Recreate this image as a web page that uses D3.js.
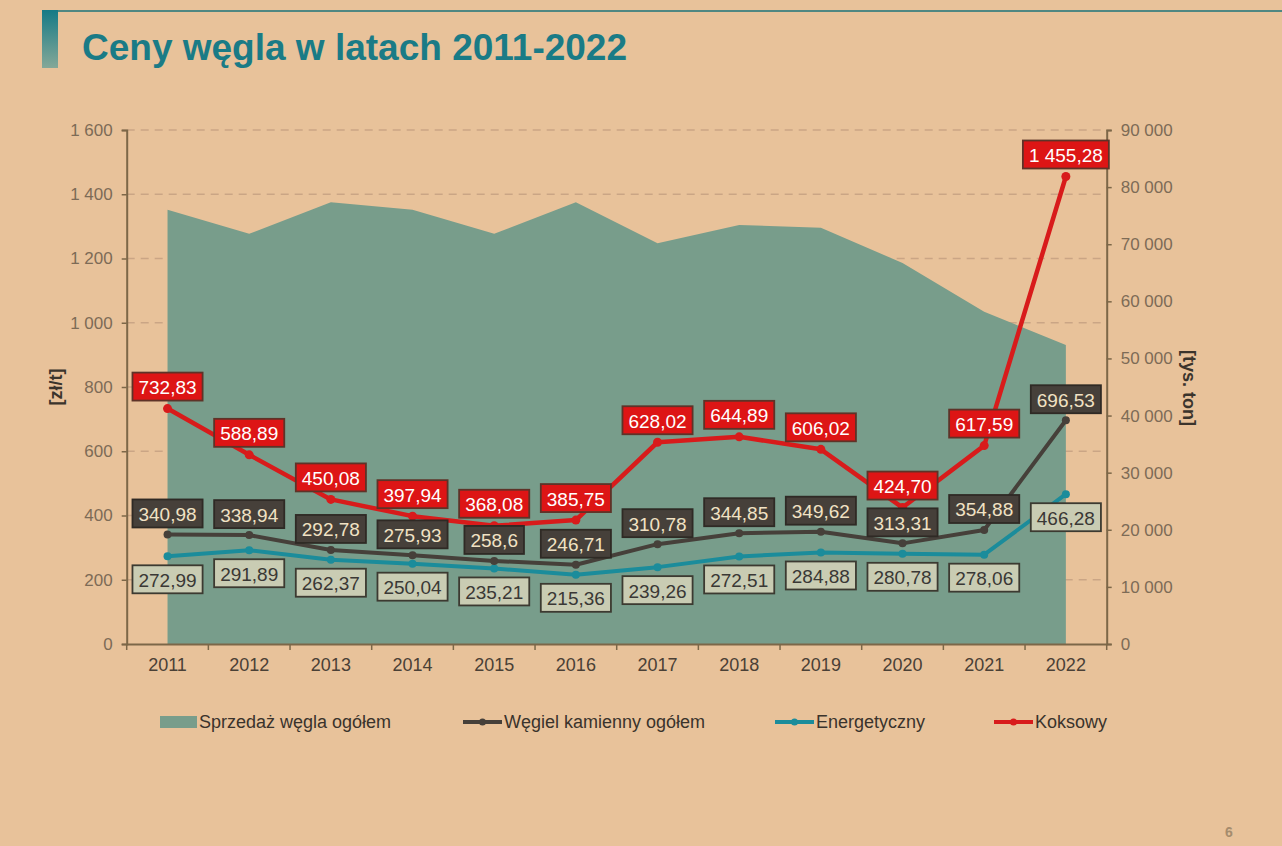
<!DOCTYPE html>
<html lang="pl">
<head>
<meta charset="utf-8">
<script src="https://cdn.jsdelivr.net/npm/d3@7"></script>
<style>
  html, body { margin: 0; padding: 0; background: #e8c29a; }
  svg { display: block; font-family: "Liberation Sans", Arial, sans-serif; }
</style>
</head>
<body>
<svg id="chart" width="1282" height="846"></svg>
<script>
// ---- DATA ----
const years = ["2011","2012","2013","2014","2015","2016","2017","2018","2019","2020","2021","2022"];
const salesTotal = [76030, 71820, 77360, 76030, 71820, 77360, 70180, 73370, 72890, 66710, 58190, 52350]; // tys. ton
const hardCoal   = [340.98, 338.94, 292.78, 275.93, 258.6, 246.71, 310.78, 344.85, 349.62, 313.31, 354.88, 696.53];
const energy     = [272.99, 291.89, 262.37, 250.04, 235.21, 215.36, 239.26, 272.51, 284.88, 280.78, 278.06, 466.28];
const coking     = [732.83, 588.89, 450.08, 397.94, 368.08, 385.75, 628.02, 644.89, 606.02, 424.70, 617.59, 1455.28];
const hardCoalLabels = ["340,98","338,94","292,78","275,93","258,6","246,71","310,78","344,85","349,62","313,31","354,88","696,53"];
const energyLabels   = ["272,99","291,89","262,37","250,04","235,21","215,36","239,26","272,51","284,88","280,78","278,06","466,28"];
const cokingLabels   = ["732,83","588,89","450,08","397,94","368,08","385,75","628,02","644,89","606,02","424,70","617,59","1 455,28"];
const leftTicks  = [0, 200, 400, 600, 800, 1000, 1200, 1400, 1600];
const rightTicks = [0, 10000, 20000, 30000, 40000, 50000, 60000, 70000, 80000, 90000];
const legendNames = ["Sprzedaż węgla ogółem", "Węgiel kamienny ogółem", "Energetyczny", "Koksowy"];
const titleText = "Ceny węgla w latach 2011-2022";

// ---- LAYOUT ----
const svg = d3.select("#chart");
const L = 126.7, R = 1106.7, T = 130, B = 644;
const C = {
  bg: "#e8c29a", area: "#789d8b", grid: "#caa585", axis: "#7c6748", tick: "#7d6b56",
  red: "#d81b1b", dark: "#46403a", teal: "#1b8c9b", title: "#1a7b86"
};
const pl = d3.formatLocale({decimal: ",", thousands: " ", grouping: [3], currency: ["", ""]});
const fmt = pl.format(",d");

const x = d3.scaleBand().domain(years).range([L, R]).paddingInner(0).paddingOuter(0);
const cx = d => x(d) + x.bandwidth() / 2;
const yL = d3.scaleLinear().domain([0, 1600]).range([B, T]);
const yR = d3.scaleLinear().domain([0, 90000]).range([B, T]);

// Title decoration
const defs = svg.append("defs");
const grad = defs.append("linearGradient").attr("id", "barGrad").attr("x1", 0).attr("y1", 0).attr("x2", 0).attr("y2", 1);
grad.append("stop").attr("offset", "0%").attr("stop-color", "#157a86");
grad.append("stop").attr("offset", "100%").attr("stop-color", "#85a898");
svg.append("rect").attr("x", 42).attr("y", 10).attr("width", 1240).attr("height", 2).attr("fill", "#4f8782");
svg.append("rect").attr("x", 42).attr("y", 10).attr("width", 16).attr("height", 58).attr("fill", "url(#barGrad)");
svg.append("text").attr("x", 82).attr("y", 60).attr("fill", C.title)
  .attr("font-size", 37).attr("font-weight", "bold").text(titleText);

// Gridlines (behind area)
svg.append("g").selectAll("line").data(leftTicks.filter(v => v > 0)).join("line")
  .attr("x1", L).attr("x2", R).attr("y1", d => yL(d)).attr("y2", d => yL(d))
  .attr("stroke", C.grid).attr("stroke-width", 1.5).attr("stroke-dasharray", "8,6");

// Area
const area = d3.area().x((d, i) => cx(years[i])).y0(yR(0)).y1(d => yR(d));
svg.append("path").datum(salesTotal).attr("d", area).attr("fill", C.area);

// Axes
const axisL = svg.append("g").attr("transform", `translate(${L},0)`)
  .call(d3.axisLeft(yL).tickValues(leftTicks).tickSize(5).tickPadding(9).tickFormat(fmt));
const axisR = svg.append("g").attr("transform", `translate(${R},0)`)
  .call(d3.axisRight(yR).tickValues(rightTicks).tickSize(5).tickPadding(9).tickFormat(fmt));
[axisL, axisR].forEach(g => {
  g.select(".domain").attr("stroke", C.axis).attr("stroke-width", 2);
  g.selectAll(".tick line").attr("stroke", C.axis).attr("stroke-width", 1.5);
  g.selectAll(".tick text").attr("fill", C.tick).attr("font-size", 17).attr("font-family", "Liberation Sans, Arial, sans-serif");
});
const axisB = svg.append("g").attr("transform", `translate(0,${B})`)
  .call(d3.axisBottom(x).tickSize(0).tickPadding(14));
axisB.select(".domain").attr("stroke", C.axis).attr("stroke-width", 2);
axisB.selectAll(".tick text").attr("fill", "#4a4036").attr("font-size", 18).attr("font-family", "Liberation Sans, Arial, sans-serif");
// category boundary ticks
svg.append("g").selectAll("line").data(years.concat(["end"])).join("line")
  .attr("x1", (d, i) => i < years.length ? x(d) : R).attr("x2", (d, i) => i < years.length ? x(d) : R)
  .attr("y1", B).attr("y2", B + 6).attr("stroke", C.axis).attr("stroke-width", 1.5);

// Axis titles
svg.append("text").attr("transform", "translate(62,387) rotate(-90)").attr("text-anchor", "middle")
  .attr("font-size", 18).attr("font-weight", "bold").attr("fill", "#3b342c").text("[zł/t]");
svg.append("text").attr("transform", "translate(1183,388) rotate(90)").attr("text-anchor", "middle")
  .attr("font-size", 18).attr("font-weight", "bold").attr("fill", "#3b342c").text("[tys. ton]");

// Lines
const series = [
  {vals: energy, color: C.teal, w: 4, r: 4},
  {vals: hardCoal, color: C.dark, w: 4, r: 4},
  {vals: coking, color: C.red, w: 4.5, r: 4.5}
];
const line = d3.line().x((d, i) => cx(years[i])).y(d => yL(d));
series.forEach(s => {
  svg.append("path").datum(s.vals).attr("d", line).attr("fill", "none")
    .attr("stroke", s.color).attr("stroke-width", s.w).attr("stroke-linejoin", "round").attr("stroke-linecap", "round");
  svg.append("g").selectAll("circle").data(s.vals).join("circle")
    .attr("cx", (d, i) => cx(years[i])).attr("cy", d => yL(d)).attr("r", s.r).attr("fill", s.color);
});

// Data labels
function labels(vals, texts, opt) {
  const g = svg.append("g");
  vals.forEach((v, i) => {
    const px = cx(years[i]);
    const py = yL(v) + opt.dy;
    const lg = g.append("g");
    const rect = lg.append("rect");
    const t = lg.append("text").attr("x", px).attr("y", py + 1).attr("text-anchor", "middle")
      .attr("dominant-baseline", "central").attr("font-size", 19).attr("fill", opt.text).text(texts[i]);
    const w = t.node().getComputedTextLength() + 12;
    const h = 28;
    rect.attr("x", px - w / 2).attr("y", py - h / 2).attr("width", w).attr("height", h)
      .attr("fill", opt.fill).attr("stroke", opt.stroke).attr("stroke-width", 1.8);
  });
}
labels(energy, energyLabels, {dy: 23, fill: "#c9ccb3", stroke: "#3c3a31", text: "#3a3835"});
labels(hardCoal, hardCoalLabels, {dy: -21, fill: "#46403a", stroke: "#2f2a25", text: "#f1e2c4"});
labels(coking, cokingLabels, {dy: -22, fill: "#dd1515", stroke: "#5e3328", text: "#ffffff"});

// Legend
const lg = svg.append("g").attr("font-size", 18).attr("fill", "#3a332c");
const legendY = 722;
lg.append("rect").attr("x", 160).attr("y", legendY - 6).attr("width", 37).attr("height", 12).attr("fill", C.area);
lg.append("text").attr("x", 199).attr("y", legendY).attr("dominant-baseline", "central").text(legendNames[0]);
const legendLines = [
  {x0: 463, x1: 502, color: C.dark, name: legendNames[1]},
  {x0: 775, x1: 814, color: C.teal, name: legendNames[2]},
  {x0: 994, x1: 1033, color: C.red, name: legendNames[3]}
];
legendLines.forEach(d => {
  lg.append("line").attr("x1", d.x0).attr("x2", d.x1).attr("y1", legendY).attr("y2", legendY)
    .attr("stroke", d.color).attr("stroke-width", 4);
  lg.append("circle").attr("cx", (d.x0 + d.x1) / 2).attr("cy", legendY).attr("r", 3.5).attr("fill", d.color);
  lg.append("text").attr("x", d.x1 + 2).attr("y", legendY).attr("dominant-baseline", "central").text(d.name);
});

// Page number
svg.append("text").attr("x", 1229).attr("y", 832).attr("text-anchor", "middle").attr("dominant-baseline", "central")
  .attr("font-size", 14).attr("font-weight", "bold").attr("fill", "#a58c6d").text("6");
</script>
</body>
</html>
